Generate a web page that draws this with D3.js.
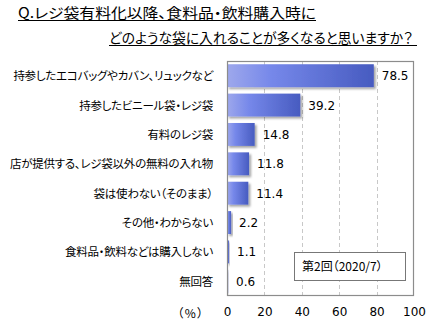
<!DOCTYPE html>
<html><head><meta charset="utf-8">
<script src="https://cdn.jsdelivr.net/npm/d3@7/dist/d3.min.js"></script>
<style>
body{margin:0;background:#fff;}
text{font-family:"Noto Sans CJK JP","Noto Sans",sans-serif;font-feature-settings:"palt";}
.num{font-family:"DejaVu Sans","Noto Sans",sans-serif;font-feature-settings:normal;}
</style></head>
<body><svg id="c" width="434" height="324"></svg>
<script>
const titleLines = ["Q.レジ袋有料化以降、食料品・飲料購入時に", "どのような袋に入れることが多くなると思いますか？"];
const categories = ["持参したエコバッグやカバン、リュックなど","持参したビニール袋・レジ袋","有料のレジ袋","店が提供する、レジ袋以外の無料の入れ物","袋は使わない（そのまま）","その他・わからない","食料品・飲料などは購入しない","無回答"];
const values = [78.5, 39.2, 14.8, 11.8, 11.4, 2.2, 1.1, 0.6];
const xTicks = [0, 20, 40, 60, 80, 100];
const legendLabel = "第2回（2020/7）";
const unitLabel = "（%）";

const svg = d3.select("#c");
const defs = svg.append("defs");
const g1 = defs.append("linearGradient").attr("id","bg").attr("x1","0").attr("x2","1").attr("y1","0").attr("y2","0");
g1.append("stop").attr("offset","0%").attr("stop-color","#9ea8ec");
g1.append("stop").attr("offset","30%").attr("stop-color","#7688ea");
g1.append("stop").attr("offset","100%").attr("stop-color","#475bc0");
const f = defs.append("filter").attr("id","sh").attr("x","-20%").attr("y","-20%").attr("width","150%").attr("height","160%");
f.append("feDropShadow").attr("dx",2).attr("dy",2).attr("stdDeviation",1.2).attr("flood-color","#000").attr("flood-opacity",0.35);

const L = 227, R = 414, T = 61, B = 296;
const x = d3.scaleLinear().domain([0,100]).range([L,R]);
const y = d3.scaleBand().domain(categories).range([T,B]).paddingInner(0.22).paddingOuter(0.11);

// title
svg.append("text").attr("x",18).attr("y",18).attr("font-size",14).attr("fill","#000")
  .attr("textLength",298).attr("lengthAdjust","spacingAndGlyphs").text(titleLines[0]);
svg.append("text").attr("x",109).attr("y",43).attr("font-size",14).attr("fill","#000")
  .attr("textLength",304).attr("lengthAdjust","spacingAndGlyphs").text(titleLines[1]);
svg.append("line").attr("x1",18).attr("x2",316).attr("y1",20.5).attr("y2",20.5).attr("stroke","#000").attr("stroke-width",1);
svg.append("line").attr("x1",109).attr("x2",417).attr("y1",45.5).attr("y2",45.5).attr("stroke","#000").attr("stroke-width",1);

// grid
svg.append("g").selectAll("line").data(xTicks.filter(d=>d>0&&d<100)).join("line")
  .attr("x1",d=>Math.round(x(d))+0.5).attr("x2",d=>Math.round(x(d))+0.5)
  .attr("y1",T).attr("y2",B).attr("stroke","#c8c8c8").attr("stroke-dasharray","4,3");

// bars
svg.append("g").selectAll("rect").data(values).join("rect")
  .attr("x",x(0)).attr("y",(d,i)=>y(categories[i]))
  .attr("width",d=>x(d)-x(0)).attr("height",y.bandwidth())
  .attr("fill","url(#bg)").attr("filter","url(#sh)");

// frame
svg.append("rect").attr("x",L+0.5).attr("y",T+0.5).attr("width",R-L-1).attr("height",B-T-1)
  .attr("fill","none").attr("stroke","#8c8c8c").attr("stroke-width",1.2);

// value labels
svg.append("g").selectAll("text").data(values).join("text").attr("class","num")
  .attr("x",d=>x(d)+8).attr("y",(d,i)=>y(categories[i])+y.bandwidth()/2+4.5)
  .attr("font-size",12).attr("fill","#000").text(d=>d.toFixed(1));

// category labels
svg.append("g").selectAll("text").data(categories).join("text")
  .attr("x",213).attr("y",d=>y(d)+y.bandwidth()/2+4.5).attr("text-anchor","end")
  .attr("font-size",11.5).attr("letter-spacing",-0.25).attr("fill","#000").text(d=>d);

// x axis
const ax = svg.append("g").attr("transform",`translate(0,${B})`)
  .call(d3.axisBottom(x).tickValues(xTicks).tickSize(0).tickPadding(11));
ax.select(".domain").remove();
ax.selectAll("text").attr("class","num").attr("font-size",12).attr("fill","#000")
  .attr("font-family","DejaVu Sans");
svg.append("text").attr("x",191).attr("y",318).attr("text-anchor","middle").attr("font-size",12)
  .attr("letter-spacing",1.5).attr("fill","#000").text(unitLabel);

// legend box
svg.append("rect").attr("x",294.5).attr("y",252.5).attr("width",111).attr("height",28)
  .attr("fill","#fff").attr("stroke","#777").attr("stroke-width",1);
svg.append("text").attr("x",302).attr("y",271).attr("font-size",12).attr("fill","#000").text(legendLabel);
</script></body></html>
